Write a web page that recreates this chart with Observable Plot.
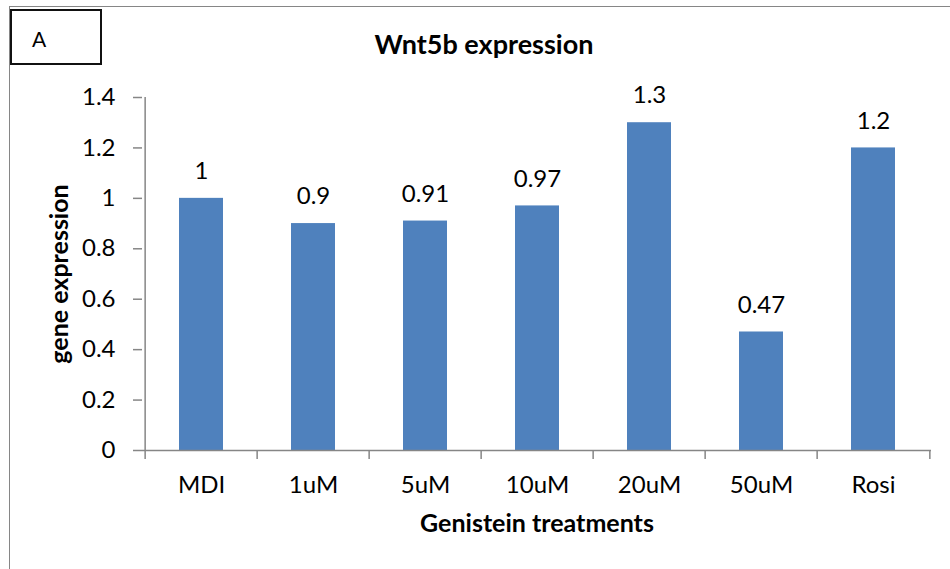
<!DOCTYPE html>
<html>
<head>
<meta charset="utf-8">
<script src="https://cdn.jsdelivr.net/npm/d3@7"></script>
<script src="https://cdn.jsdelivr.net/npm/@observablehq/plot@0.6"></script>
<style>
  html, body { margin: 0; padding: 0; background: #fff; }
  #wrap { position: relative; width: 950px; height: 569px; overflow: hidden; font-family: Lato, "Open Sans", sans-serif; }
  #frame { position: absolute; left: 9px; top: 6px; width: 960px; height: 600px; border-left: 1.5px solid #868686; border-top: 1.5px solid #868686; box-sizing: border-box; }
  #boxA { position: absolute; left: 10px; top: 9px; width: 92px; height: 56px; border: 2px solid #111; box-sizing: border-box; background: #fff; font-size: 21px; line-height: 1; padding: 17px 0 0 20px; color: #000; }
  #title { position: absolute; left: 0; width: 968px; top: 28px; line-height: 1.2; text-align: center; font-weight: bold; font-size: 27px; color: #000; }
  #chart { position: absolute; left: 0; top: 0; }
</style>
</head>
<body>
<div id="wrap">
  <div id="chart"></div>
  <div id="frame"></div>
  <div id="boxA">A</div>
  <div id="title">Wnt5b expression</div>
</div>
<script>
const categories = ["MDI", "1uM", "5uM", "10uM", "20uM", "50uM", "Rosi"];
const values = [1, 0.9, 0.91, 0.97, 1.3, 0.47, 1.2];
const yTicks = [0, 0.2, 0.4, 0.6, 0.8, 1, 1.2, 1.4];

const data = categories.map((c, i) => ({category: c, value: values[i]}));

const W = 950, H = 569;
const mL = 142, mR = 19, mT = 97, mB = 119;
const step = (W - mL - mR) / categories.length;
const axisColor = "#868686";
const font = "Lato, 'Open Sans', sans-serif";

const plot = Plot.plot({
  width: W,
  height: H,
  marginLeft: mL,
  marginRight: mR,
  marginTop: mT,
  marginBottom: mB,
  style: {fontFamily: font, fontSize: "24px", color: "#000", background: "transparent", overflow: "visible"},
  x: {domain: categories, paddingInner: 0.61, paddingOuter: 0.305, label: null},
  y: {domain: [0, 1.4], label: null},
  marks: [
    Plot.barY(data, {x: "category", y: "value", fill: "#4F81BD"}),
    Plot.text(data, {x: "category", y: "value", text: d => String(d.value), dy: -27, fontSize: 24, fill: "#000"}),
    // y axis ticks + labels
    Plot.axisY({ticks: yTicks, tickFormat: d => String(Math.round(d * 10) / 10), tickSize: 9, tickPadding: 18, stroke: axisColor, strokeWidth: 1.5, fill: "#000", fontSize: 24, label: null}),
    // y axis line
    Plot.ruleX([categories[0]], {x: d => d, dx: -step / 2, y1: 0, y2: 1.4, stroke: axisColor, strokeWidth: 1.5}),
    // x axis line
    Plot.ruleY([0], {stroke: axisColor, strokeWidth: 1.5}),
    // boundary ticks below x axis
    Plot.ruleX(categories, {x: d => d, dx: -step / 2, y1: 0, y2: 0, insetBottom: -9, stroke: axisColor, strokeWidth: 1.5}),
    Plot.ruleX([categories[categories.length - 1]], {x: d => d, dx: step / 2, y1: 0, y2: 0, insetBottom: -9, stroke: axisColor, strokeWidth: 1.5}),
    Plot.axisX({tickSize: 0, tickPadding: 25, fontSize: 24, fill: "#000", label: null}),
    Plot.text(["gene expression"], {frameAnchor: "left", dx: -83, rotate: -90, textAnchor: "middle", lineAnchor: "middle", fontWeight: "bold", fontSize: 25, fill: "#000"}),
    Plot.text(["Genistein treatments"], {frameAnchor: "bottom", dy: 73, lineAnchor: "middle", fontWeight: "bold", fontSize: 25, fill: "#000"})
  ]
});

document.getElementById("chart").appendChild(plot);
</script>
</body>
</html>
